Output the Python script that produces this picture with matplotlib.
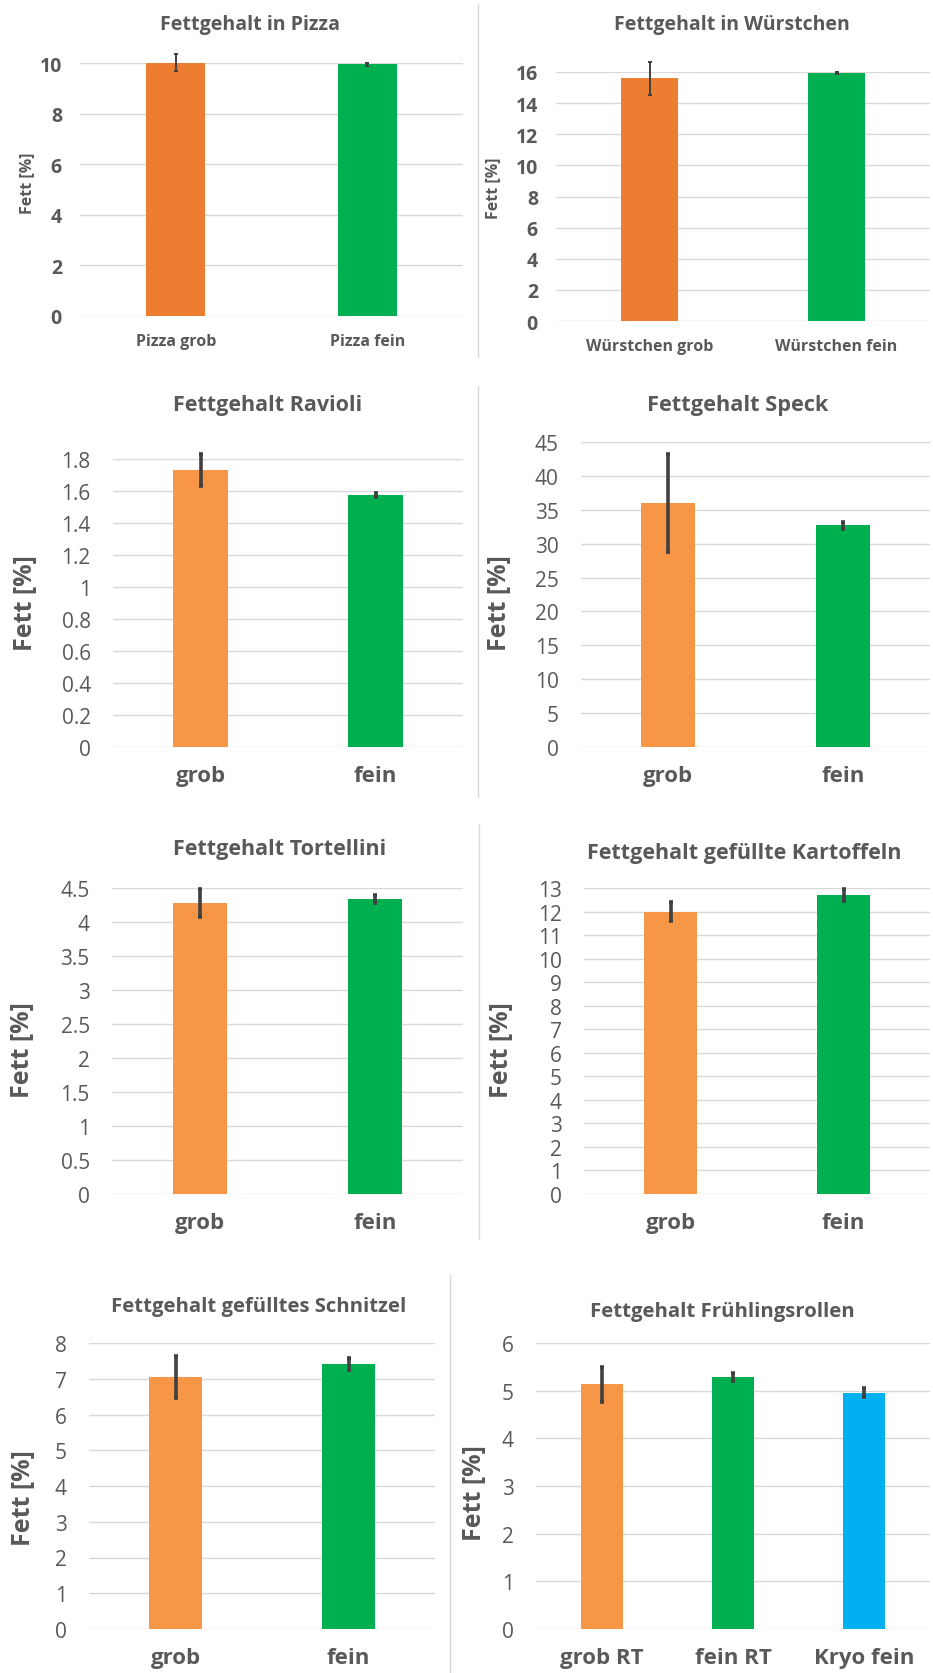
import matplotlib
matplotlib.use('Agg')
import matplotlib.pyplot as plt
from matplotlib.lines import Line2D

plt.rcParams['font.family'] = ['Open Sans', 'DejaVu Sans']

W, H = 933, 1674

# data
pizza_labels = ['Pizza grob', 'Pizza fein']
pizza_vals = [10.03, 9.95]
pizza_err = [0.33, 0.05]

wurst_labels = ['Würstchen grob', 'Würstchen fein']
wurst_vals = [15.6, 15.95]
wurst_err = [1.05, 0.05]

ravioli_labels = ['grob', 'fein']
ravioli_vals = [1.73, 1.575]
ravioli_err = [0.1, 0.015]

speck_labels = ['grob', 'fein']
speck_vals = [36.0, 32.7]
speck_err = [7.2, 0.5]

tortellini_labels = ['grob', 'fein']
tortellini_vals = [4.28, 4.34]
tortellini_err = [0.2, 0.06]

kartoffeln_labels = ['grob', 'fein']
kartoffeln_vals = [12.0, 12.69]
kartoffeln_err = [0.42, 0.25]

schnitzel_labels = ['grob', 'fein']
schnitzel_vals = [7.05, 7.41]
schnitzel_err = [0.6, 0.17]

rollen_labels = ['grob RT', 'fein RT', 'Kryo fein']
rollen_vals = [5.13, 5.29, 4.96]
rollen_err = [0.37, 0.08, 0.09]

TXT = '#595959'
GRID = '#D9D9D9'
ORANGE_DARK = '#ED7D31'
ORANGE = '#F79646'
GREEN = '#00B050'
BLUE = '#00B0F0'

fig = plt.figure(figsize=(W / 100, H / 100), dpi=100)


def px_axes(x0, y0, x1, y1):
    return fig.add_axes([x0 / W, 1 - y1 / H, (x1 - x0) / W, (y1 - y0) / H])


def ftext(x, y, s, **kw):
    fig.text(x / W, 1 - y / H, s, color=TXT, ha='center', va='center', **kw)


# (labels, values, errors, colors, title, title size, ylim, step, box, title pos, ylabel pos, small style?)
panels = [
    (pizza_labels, pizza_vals, pizza_err, [ORANGE_DARK, GREEN], 'Fettgehalt in Pizza', 14.1,
     10, 2, (80, 64, 463, 317), (250, 25), (27, 183), True),
    (wurst_labels, wurst_vals, wurst_err, [ORANGE_DARK, GREEN], 'Fettgehalt in Würstchen', 14,
     16, 2, (556, 73, 930, 322), (732, 25), (493, 188), True),
    (ravioli_labels, ravioli_vals, ravioli_err, [ORANGE, GREEN], 'Fettgehalt Ravioli', 15.5,
     1.8, 0.2, (113, 460, 463, 748), (268, 405), (25, 603), False),
    (speck_labels, speck_vals, speck_err, [ORANGE, GREEN], 'Fettgehalt Speck', 15.7,
     45, 5, (581, 443, 930, 748), (738, 405), (499, 603), False),
    (tortellini_labels, tortellini_vals, tortellini_err, [ORANGE, GREEN], 'Fettgehalt Tortellini', 15.5,
     4.5, 0.5, (112, 889, 463, 1195), (280, 850), (22, 1050), False),
    (kartoffeln_labels, kartoffeln_vals, kartoffeln_err, [ORANGE, GREEN], 'Fettgehalt gefüllte Kartoffeln', 15.5,
     13, 1, (584, 889, 930, 1195), (744, 853), (501, 1050), False),
    (schnitzel_labels, schnitzel_vals, schnitzel_err, [ORANGE, GREEN], 'Fettgehalt gefülltes Schnitzel', 14.6,
     8, 1, (89, 1344, 435, 1630), (259, 1307), (23, 1498), False),
    (rollen_labels, rollen_vals, rollen_err, [ORANGE, GREEN, BLUE], 'Fettgehalt Frühlingsrollen', 14.7,
     6, 1, (536, 1344, 930, 1630), (722, 1312), (474, 1493), False),
]

for labels, vals, errs, colors, title, tsize, ymax, step, box, tpos, lpos, small in panels:
    ax = px_axes(*box)
    n = len(vals)
    xs = list(range(n))
    ax.bar(xs, vals, width=0.31 if n == 2 else 0.32, color=colors, zorder=2)
    eb = ax.errorbar(xs, vals, yerr=errs, fmt='none', ecolor='#404040',
                     elinewidth=1.4 if small else 2.6, capsize=1.5,
                     capthick=1.4 if small else 2.6, zorder=3)
    for part in eb.lines[1] + eb.lines[2]:
        part.set_clip_on(False)
    ax.set_xlim(-0.5, n - 0.5)
    ax.set_ylim(0, ymax)
    ticks = [round(i * step, 2) for i in range(int(round(ymax / step)) + 1)]
    ax.set_yticks(ticks)
    ax.set_yticklabels(['%g' % t for t in ticks])
    ax.set_xticks(xs)
    ax.set_xticklabels(labels)
    ax.yaxis.grid(True, color=GRID, lw=1)
    ax.set_axisbelow(True)
    for sp in ax.spines.values():
        sp.set_visible(False)
    ax.tick_params(length=0, colors=TXT)
    ftext(*tpos, title, fontsize=tsize, fontweight='bold')
    if small:
        ax.tick_params(axis='y', labelsize=14, pad=13)
        ax.tick_params(axis='x', labelsize=11.5, pad=12)
        for t in ax.get_xticklabels() + ax.get_yticklabels():
            t.set_fontweight('bold')
        ftext(*lpos, 'Fett [%]', fontsize=11.5, fontweight='bold', rotation=90)
    else:
        ax.tick_params(axis='y', labelsize=15, pad=16)
        ax.tick_params(axis='x', labelsize=16, pad=13)
        for t in ax.get_xticklabels():
            t.set_fontweight('bold')
        ftext(*lpos, 'Fett [%]', fontsize=18, fontweight='bold', rotation=90)

# thin divider lines between the chart boxes
for x, y0, y1 in [(478, 5, 358), (478, 387, 798), (479, 825, 1240), (450, 1276, 1674)]:
    fig.add_artist(Line2D([x / W, x / W], [1 - y0 / H, 1 - y1 / H], color=GRID, lw=1))

fig.savefig('out.png', dpi=100, facecolor='white')
